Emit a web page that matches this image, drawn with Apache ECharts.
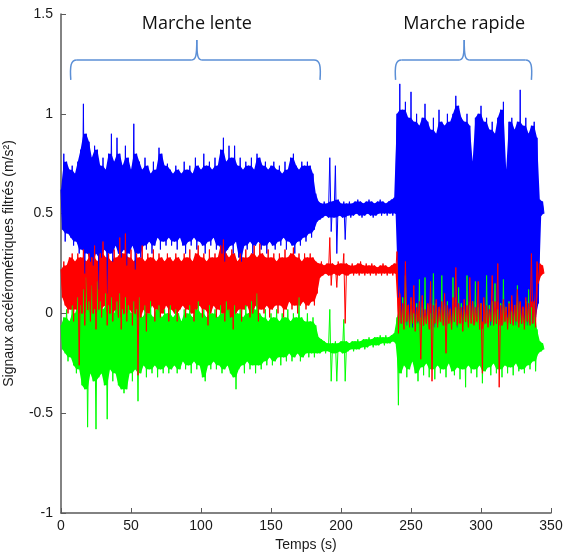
<!DOCTYPE html>
<html>
<head>
<meta charset="utf-8">
<title>Signaux accélérométriques filtrés</title>
<script src="https://cdn.jsdelivr.net/npm/echarts@6/dist/echarts.min.js"></script>
<style>
  html, body { margin: 0; padding: 0; background: #fff; }
  #chart { width: 566px; height: 553px; }
</style>
</head>
<body>
<div id="chart"></div>
<script>
// pas d'échantillonnage (s) : chaque valeur haute est à t, la basse à t + step/2
var step = 2;

// enveloppes, de t = 0 à t = 344 s
// ordre : marche lente (0-182), repos (184-238), marche rapide (240-340), fin (342-344)
var blueHi = [
  0.62, 0.80, 0.76, 0.72, 0.74, 0.70, 0.76, 0.82, 1.05, 0.90,
  0.86, 0.78, 0.84, 0.82, 0.74, 0.78, 0.72, 0.80, 0.90, 0.76,
  0.88, 0.80, 0.74, 0.84, 0.78, 0.72, 0.95, 0.80, 0.76, 0.72,
  0.78, 0.74, 0.70, 0.76, 0.72, 0.83, 0.80, 0.74, 0.75, 0.72,
  0.70, 0.74, 0.72, 0.70, 0.76, 0.72, 0.74, 0.70, 0.78, 0.74,
  0.72, 0.80, 0.74, 0.76, 0.72, 0.78, 0.74, 0.82, 0.88, 0.76,
  0.84, 0.78, 0.84, 0.74, 0.78, 0.72, 0.76, 0.74, 0.78, 0.72,
  0.80, 0.78, 0.74, 0.76, 0.72, 0.74, 0.76, 0.72, 0.74, 0.70,
  0.76, 0.72, 0.78, 0.80, 0.74, 0.72, 0.76, 0.74, 0.76, 0.74,
  0.70, 0.60,
  0.56, 0.55, 0.56, 0.55, 0.78, 0.56, 0.74, 0.57, 0.55, 0.56,
  0.55, 0.56, 0.55, 0.56, 0.57, 0.56, 0.55, 0.56, 0.57, 0.56,
  0.55, 0.56, 0.57, 0.56, 0.55, 0.56, 0.57, 0.58,
  1.00, 1.15, 1.02, 1.06, 0.98, 1.11, 0.96, 1.00, 0.94, 0.98,
  1.05, 0.96, 0.92, 0.98, 0.90, 1.02, 0.96, 0.94, 1.00, 0.96,
  1.00, 1.09, 1.04, 0.98, 0.96, 1.00, 0.94, 0.76, 0.98, 1.00,
  1.04, 0.96, 0.98, 0.92, 0.96, 0.90, 0.98, 1.02, 1.06, 0.72,
  0.96, 0.98, 0.92, 0.96, 1.12, 0.94, 0.98, 0.90, 0.94, 0.96,
  0.88,
  0.57, 0.56
];
var blueLo = [
  0.42, 0.36, 0.40, 0.38, 0.34, 0.36, 0.30, 0.32, 0.20, 0.30,
  0.26, 0.24, 0.30, 0.12, 0.28, 0.32, 0.10, 0.30, 0.26, 0.34,
  0.30, 0.28, 0.32, 0.24, 0.30, 0.34, 0.22, 0.30, 0.28, 0.34,
  0.32, 0.36, 0.30, 0.34, 0.38, 0.32, 0.36, 0.34, 0.38, 0.34,
  0.36, 0.32, 0.38, 0.34, 0.30, 0.36, 0.34, 0.38, 0.32, 0.36,
  0.34, 0.30, 0.36, 0.34, 0.38, 0.32, 0.34, 0.30, 0.26, 0.32,
  0.34, 0.30, 0.36, 0.28, 0.26, 0.34, 0.32, 0.36, 0.30, 0.34,
  0.36, 0.32, 0.34, 0.30, 0.36, 0.34, 0.32, 0.36, 0.34, 0.38,
  0.32, 0.36, 0.34, 0.30, 0.36, 0.34, 0.38, 0.36, 0.40, 0.38,
  0.42, 0.46,
  0.47, 0.48, 0.49, 0.48, 0.41, 0.48, 0.30, 0.49, 0.48, 0.37,
  0.49, 0.48, 0.49, 0.50, 0.49, 0.48, 0.49, 0.50, 0.49, 0.48,
  0.49, 0.50, 0.49, 0.50, 0.49, 0.50, 0.49, 0.50,
  0.08, -0.05, -0.03, -0.06, -0.04, -0.07, -0.03, -0.05, -0.02, -0.06,
  -0.04, -0.05, -0.03, -0.07, -0.04, -0.02, -0.05, -0.06, -0.03, -0.05,
  -0.04, -0.07, -0.03, -0.05, -0.04, -0.06, -0.03, -0.05, -0.02, -0.06,
  -0.04, -0.05, -0.03, -0.06, -0.04, -0.05, -0.03, -0.06, -0.04, -0.02,
  -0.05, -0.03, -0.06, -0.04, -0.05, -0.03, -0.06, -0.04, -0.05, -0.02,
  0.05,
  0.49, 0.50
];
var redHi = [
  0.22, 0.26, 0.24, 0.28, 0.30, 0.26, 0.30, 0.28, 0.32, 0.26,
  0.30, 0.28, 0.34, 0.26, 0.30, 0.36, 0.28, 0.30, 0.26, 0.32,
  0.28, 0.38, 0.30, 0.40, 0.28, 0.32, 0.26, 0.30, 0.28, 0.34,
  0.26, 0.30, 0.28, 0.32, 0.26, 0.30, 0.28, 0.26, 0.30, 0.28,
  0.26, 0.30, 0.28, 0.26, 0.30, 0.28, 0.32, 0.26, 0.30, 0.34,
  0.28, 0.30, 0.26, 0.32, 0.28, 0.30, 0.28, 0.34, 0.37, 0.30,
  0.28, 0.32, 0.30, 0.26, 0.30, 0.28, 0.32, 0.28, 0.30, 0.34,
  0.28, 0.35, 0.30, 0.28, 0.32, 0.28, 0.30, 0.26, 0.30, 0.28,
  0.32, 0.28, 0.30, 0.33, 0.28, 0.30, 0.26, 0.30, 0.28, 0.30,
  0.28, 0.26,
  0.25, 0.26, 0.24, 0.25, 0.38, 0.25, 0.24, 0.26, 0.25, 0.30,
  0.25, 0.24, 0.25, 0.24, 0.25, 0.26, 0.24, 0.25, 0.24, 0.25,
  0.24, 0.23, 0.24, 0.25, 0.24, 0.23, 0.24, 0.25,
  0.31, 0.10, 0.05, 0.26, 0.04, 0.08, 0.14, 0.03, 0.06, 0.09,
  0.02, 0.05, 0.16, 0.04, 0.07, 0.03, 0.06, 0.10, 0.04, 0.02,
  0.08, 0.23, 0.05, 0.03, 0.07, 0.04, 0.18, 0.06, 0.03, 0.16,
  0.05, 0.08, 0.04, 0.02, 0.19, 0.06, 0.25, 0.04, 0.07, 0.03,
  0.05, 0.09, 0.04, 0.12, 0.06, 0.03, 0.08, 0.05, 0.30, 0.06,
  0.26,
  0.25, 0.24
];
var redLo = [
  0.08, 0.04, 0.00, 0.02, -0.04, 0.02, -0.26, 0.00, -0.06, 0.02,
  -0.04, 0.00, -0.08, 0.02, -0.02, 0.04, -0.06, 0.00, -0.04, 0.02,
  -0.02, -0.08, 0.00, -0.04, 0.02, -0.06, 0.00, -0.31, -0.02, 0.02,
  -0.09, 0.00, 0.04, -0.04, 0.02, -0.02, 0.00, 0.04, -0.04, 0.02,
  0.00, -0.04, 0.02, 0.04, -0.02, 0.02, 0.00, -0.04, 0.02, 0.04,
  -0.02, 0.02, -0.06, 0.00, 0.04, -0.02, 0.02, 0.00, -0.04, 0.02,
  -0.02, -0.08, 0.00, 0.02, -0.04, 0.02, 0.04, -0.02, 0.00, 0.04,
  -0.04, 0.02, 0.00, 0.04, -0.02, 0.02, 0.04, 0.00, 0.04, -0.02,
  0.02, 0.06, 0.02, 0.04, 0.00, 0.04, 0.06, 0.02, 0.04, 0.06,
  0.04, 0.10,
  0.18, 0.19, 0.20, 0.19, 0.14, 0.20, 0.13, 0.19, 0.20, -0.05,
  0.19, 0.20, 0.19, 0.20, 0.19, 0.20, 0.19, 0.20, 0.19, 0.20,
  0.19, 0.20, 0.19, 0.20, 0.19, 0.20, 0.19, 0.20,
  -0.10, -0.05, -0.08, -0.04, -0.07, -0.05, -0.09, -0.04, -0.23, -0.06,
  -0.05, -0.08, -0.34, -0.05, -0.07, -0.04, -0.06, -0.20, -0.05, -0.08,
  -0.04, -0.06, -0.05, -0.09, -0.04, -0.07, -0.05, -0.06, -0.04, -0.08,
  -0.30, -0.05, -0.07, -0.04, -0.06, -0.05, -0.37, -0.06, -0.04, -0.08,
  -0.05, -0.06, -0.04, -0.07, -0.05, -0.08, -0.04, -0.06, -0.05, -0.07,
  0.15,
  0.19, 0.20
];
var greenHi = [
  -0.06, -0.02, 0.02, -0.04, 0.04, 0.00, 0.08, 0.04, 0.12, 0.18,
  0.06, 0.14, 0.02, 0.16, 0.06, 0.02, 0.10, 0.04, 0.08, 0.00,
  0.06, 0.10, 0.02, 0.08, 0.04, 0.00, 0.06, 0.02, 0.08, -0.02,
  0.04, 0.00, 0.06, -0.02, 0.02, 0.04, -0.02, 0.02, 0.00, 0.04,
  -0.02, 0.02, 0.00, -0.04, 0.02, 0.00, 0.04, -0.02, 0.02, 0.06,
  0.00, 0.02, -0.02, 0.04, 0.00, 0.02, -0.02, 0.04, 0.00, 0.06,
  0.02, -0.02, 0.04, 0.00, 0.02, -0.02, 0.04, 0.00, 0.06, 0.02,
  0.10, 0.00, -0.02, 0.02, -0.04, 0.00, -0.02, 0.02, -0.04, 0.00,
  -0.02, 0.02, -0.04, 0.00, -0.02, 0.08, -0.02, -0.04, 0.00, -0.04,
  -0.02, -0.06,
  -0.12, -0.13, -0.14, -0.15, 0.02, -0.15, -0.14, -0.15, -0.14, -0.03,
  -0.14, -0.15, -0.14, -0.14, -0.13, -0.14, -0.13, -0.13, -0.12, -0.13,
  -0.12, -0.12, -0.11, -0.12, -0.11, -0.12, -0.11, -0.10,
  -0.02, 0.04, 0.08, 0.19, 0.02, 0.06, 0.00, 0.05, 0.17, 0.03,
  0.18, 0.04, 0.00, 0.20, 0.05, 0.02, 0.19, 0.04, 0.06, 0.01,
  0.18, 0.03, 0.13, 0.05, 0.02, 0.19, 0.04, 0.06, 0.16, 0.03,
  0.05, 0.01, 0.19, 0.04, 0.06, 0.15, 0.02, 0.05, 0.17, 0.03,
  0.06, 0.01, 0.04, 0.14, 0.05, 0.02, 0.06, 0.12, 0.03, 0.05,
  -0.08,
  -0.14, -0.15
];
var greenLo = [
  -0.18, -0.20, -0.24, -0.22, -0.26, -0.30, -0.28, -0.36, -0.38, -0.57,
  -0.30, -0.34, -0.58, -0.32, -0.30, -0.36, -0.53, -0.28, -0.34, -0.30,
  -0.36, -0.38, -0.40, -0.38, -0.30, -0.34, -0.28, -0.44, -0.30, -0.26,
  -0.32, -0.28, -0.30, -0.26, -0.32, -0.28, -0.30, -0.26, -0.30, -0.28,
  -0.26, -0.30, -0.28, -0.24, -0.28, -0.26, -0.30, -0.24, -0.28, -0.26,
  -0.32, -0.34, -0.26, -0.28, -0.24, -0.28, -0.26, -0.30, -0.28, -0.26,
  -0.30, -0.32, -0.38, -0.28, -0.26, -0.30, -0.24, -0.28, -0.26, -0.30,
  -0.26, -0.28, -0.24, -0.26, -0.22, -0.26, -0.24, -0.22, -0.26, -0.22,
  -0.24, -0.20, -0.24, -0.22, -0.20, -0.24, -0.22, -0.20, -0.22, -0.20,
  -0.22, -0.20,
  -0.20, -0.19, -0.20, -0.19, -0.34, -0.20, -0.34, -0.19, -0.20, -0.34,
  -0.19, -0.18, -0.19, -0.18, -0.18, -0.17, -0.18, -0.17, -0.16, -0.17,
  -0.16, -0.16, -0.15, -0.16, -0.15, -0.15, -0.14, -0.15,
  -0.46, -0.30, -0.26, -0.32, -0.28, -0.24, -0.30, -0.34, -0.27, -0.31,
  -0.25, -0.32, -0.28, -0.33, -0.26, -0.30, -0.28, -0.32, -0.25, -0.29,
  -0.31, -0.27, -0.33, -0.28, -0.37, -0.26, -0.30, -0.28, -0.32, -0.26,
  -0.35, -0.29, -0.27, -0.31, -0.25, -0.30, -0.28, -0.32, -0.26, -0.30,
  -0.27, -0.31, -0.25, -0.29, -0.28, -0.30, -0.26, -0.28, -0.24, -0.29,
  -0.20,
  -0.19, -0.18
];

// phases annotées au-dessus des courbes (en secondes)
var phaseNames = ['Marche lente', 'Marche rapide'];
var phaseStart = [7, 239];
var phaseEnd = [185, 336];
var phaseMid = [97, 288];

var xTicks = { min: 0, max: 350, interval: 50 };
var yTicks = { min: -1, max: 1.5, interval: 0.5 };

// alterne haut / bas pour retrouver l'aspect d'un signal bruité
function zigzag(hi, lo) {
  var pts = [];
  for (var k = 0; k < hi.length; k++) {
    pts.push([k * step, hi[k]]);
    pts.push([k * step + step / 2, lo[k]]);
  }
  return pts;
}

// coeur plein du signal : un pic isolé reste un trait fin, il ne gonfle pas la bande
function core(hi, lo) {
  var top = [], bottom = [];
  for (var k = 0; k < hi.length; k++) {
    var p = Math.max(k - 1, 0), n = Math.min(k + 1, hi.length - 1);
    top.push([k * step, Math.min(hi[k], Math.max(hi[p], hi[n]))]);
    bottom.push([k * step + step / 2, Math.max(lo[k], Math.min(lo[p], lo[n]))]);
  }
  return top.concat(bottom.reverse());
}

var font = '"Liberation Sans", Arial, sans-serif';
var axisColor = '#5a5a5a';

var chart = echarts.init(document.getElementById('chart'), null, { renderer: 'canvas' });

function signalLine(color, hi, lo) {
  return {
    type: 'line',
    data: zigzag(hi, lo),
    showSymbol: false,
    symbol: 'none',
    silent: true,
    animation: false,
    lineStyle: { color: color, width: 1 },
    emphasis: { disabled: true }
  };
}

function signalBand(color, hi, lo) {
  var outline = core(hi, lo);
  return {
    type: 'custom',
    silent: true,
    animation: false,
    data: [[0, 0]],
    renderItem: function (params, api) {
      return {
        type: 'polygon',
        shape: { points: outline.map(function (p) { return api.coord(p); }) },
        style: { fill: color }
      };
    }
  };
}

var option = {
  animation: false,
  backgroundColor: '#ffffff',
  grid: { left: 61, right: 15, top: 14, bottom: 40, containLabel: false, outerBoundsMode: 'none' },
  xAxis: {
    type: 'value',
    min: xTicks.min,
    max: xTicks.max,
    interval: xTicks.interval,
    name: 'Temps (s)',
    nameLocation: 'middle',
    nameGap: 25,
    nameTextStyle: { fontFamily: font, fontSize: 14, color: '#1a1a1a' },
    axisLine: { onZero: false, lineStyle: { color: axisColor, width: 1.5 } },
    axisTick: { inside: true, length: 5, lineStyle: { color: axisColor } },
    axisLabel: { fontFamily: font, fontSize: 14, color: '#1a1a1a', margin: 6 },
    splitLine: { show: false }
  },
  yAxis: {
    type: 'value',
    min: yTicks.min,
    max: yTicks.max,
    interval: yTicks.interval,
    name: 'Signaux accélérométriques filtrés (m/s²)',
    nameLocation: 'middle',
    nameGap: 45,
    nameTextStyle: { fontFamily: font, fontSize: 14, color: '#1a1a1a' },
    axisLine: { show: true, onZero: false, lineStyle: { color: axisColor, width: 1.5 } },
    axisTick: { show: true, inside: true, length: 5, lineStyle: { color: axisColor } },
    axisLabel: { fontFamily: font, fontSize: 14, color: '#1a1a1a', margin: 8 },
    splitLine: { show: false }
  },
  series: [
    signalBand('#0000ff', blueHi, blueLo),
    signalLine('#0000ff', blueHi, blueLo),
    signalBand('#00ff00', greenHi, greenLo),
    signalLine('#00ff00', greenHi, greenLo),
    signalBand('#ff0000', redHi, redLo),
    signalLine('#ff0000', redHi, redLo)
  ]
};

chart.setOption(option);

// accolades et titres des phases, placés via les échelles du graphique
var braceLevel = 1.27, braceFoot = 1.17, braceTip = 1.37, labelLevel = 1.45;
var braceStyle = { stroke: '#5b8fd6', fill: null, lineWidth: 1.5 };
var graphics = [];

function curve(x1, y1, cx1, cy1, cx2, cy2, x2, y2) {
  return {
    type: 'bezierCurve', silent: true, style: braceStyle,
    shape: { x1: x1, y1: y1, cpx1: cx1, cpy1: cy1, cpx2: cx2, cpy2: cy2, x2: x2, y2: y2 }
  };
}
function segment(x1, y1, x2, y2) {
  return { type: 'line', silent: true, style: braceStyle, shape: { x1: x1, y1: y1, x2: x2, y2: y2 } };
}

for (var i = 0; i < phaseNames.length; i++) {
  var a = chart.convertToPixel({ gridIndex: 0 }, [phaseStart[i], braceLevel]);
  var b = chart.convertToPixel({ gridIndex: 0 }, [phaseEnd[i], braceFoot]);
  var m = chart.convertToPixel({ gridIndex: 0 }, [phaseMid[i], braceTip]);
  var lbl = chart.convertToPixel({ gridIndex: 0 }, [phaseMid[i], labelLevel]);
  var x1 = a[0], x2 = b[0], xm = m[0], y = a[1], yf = b[1], yt = m[1];
  graphics.push(
    curve(x1, yf, x1 - 1, y + 6, x1, y, x1 + 6, y),
    segment(x1 + 6, y, xm - 5, y),
    curve(xm - 5, y, xm - 1, y, xm, y - 4, xm, yt),
    curve(xm, yt, xm, y - 4, xm + 1, y, xm + 5, y),
    segment(xm + 5, y, x2 - 6, y),
    curve(x2 - 6, y, x2, y, x2 + 1, y + 6, x2, yf)
  );
  graphics.push({
    type: 'text',
    x: lbl[0],
    y: lbl[1],
    silent: true,
    style: {
      text: phaseNames[i],
      fill: '#111',
      font: '18px "Open Sans", sans-serif',
      align: 'center',
      verticalAlign: 'middle'
    }
  });
}
chart.setOption({ graphic: graphics });
</script>
</body>
</html>
